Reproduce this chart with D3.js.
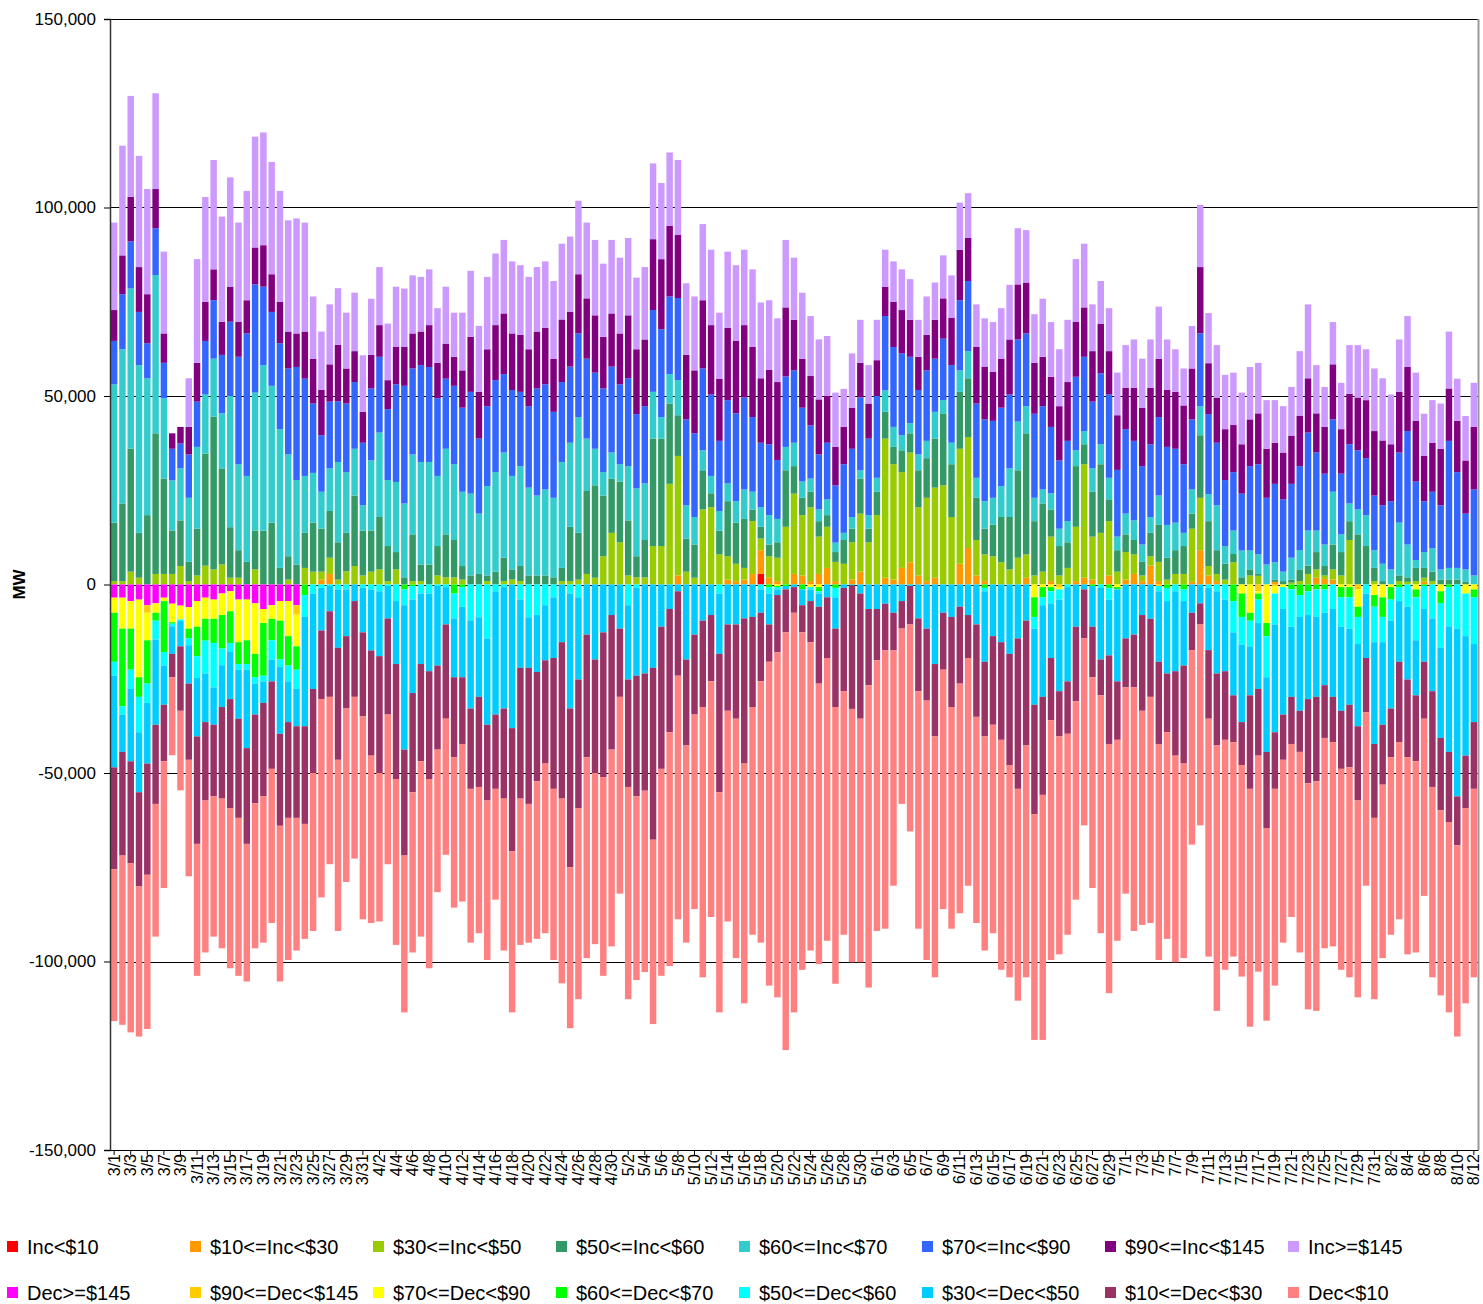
<!DOCTYPE html>
<html>
<head>
<meta charset="utf-8">
<script src="https://cdn.jsdelivr.net/npm/d3@7"></script>
<style>
  body { margin: 0; background: #fff; }
  svg { display: block; font-family: "Liberation Sans", Arial, sans-serif; }
</style>
</head>
<body>
<div id="chart"></div>
<script>
// Chart size and plot area
const width = 1483;
const height = 1304;
const plotLeft = 110;
const plotRight = 1478;
const plotTop = 19;
const plotBottom = 1150;

// Categories: every day from 3/1 to 8/12
const months = [[3, 31], [4, 30], [5, 31], [6, 30], [7, 31], [8, 12]];
const days = [];
months.forEach(function (m) {
  for (let d = 1; d <= m[1]; d++) days.push(m[0] + "/" + d);
});

const yTicks = [-150000, -100000, -50000, 0, 50000, 100000, 150000];

// Series values, thousand MW. Dec series are plotted below zero.
const incLt10 = [
  0,0,0,0,0,0,0,0,0,0, 0,0,0,0,0,0,0,0,0,0, 0,0,0,0,0,0,0,0,0,0, 0,0,0,0,0,0,0,0,0,0,
  0,0,0,0,0,0,0,0,0,0, 0,0,0,0,0,0,0,0,0,0, 0,0,0,0,0,0,0,0,0,0, 0,0,0,0,0,0,0,0,2.8,0,
  0,0,0,0,0,0,0,0,0,0, 0,0,0,0,0,0,0,0,0,0, 0,0,0,0,0,0,0,0,0,0, 0,0,0,0,0,0,0,0,0,0,
  0,0,0,0,0,0,0,0,0,0, 0,0,0,0,0,0,0,0,0,0, 0,0,0,0,0,0,0,0,0,0, 0,0,0,0,0,0,0,0,0,0,
  0,0,0,0,0
];
const inc10to30 = [
  0,0,0,0,0,0,0,0,0,0, 0,0,0,0,0,0,0,0,0,0, 0,0,0,0,0,1.3,2.8,0,0,0, 0,0,0,0,0,0,0,0,0,0,
  0,0,0,0,0,0,0,0,0,0, 0,0,0,0,0,0,0,0,0,0, 0,0,0,0,0,0,0,0,2.4,0, 0,0,0,0,1.3,0.9,1.3,2.8,6.3,1.8,
  0.9,0,2.8,2.4,0.9,2.8,4.4,0.9,0,1.3, 3.4,0,0,1.8,1.3,4.4,5.9,2.4,0.9,1.8, 0,0,5.5,9.7,2.4,0.9,0,0,0,0, 1.8,0,0,0.9,0,0,0.9,1.8,1.3,0,
  2.4,0,1.3,2.8,0.9,5.0,0.9,0,0,0, 0.7,9.1,2.4,0.9,0,0,0,0,0,0, 0.7,0,0,0,0,1.8,1.5,1.3,0,0, 0,0,0,0,0,0,0,0,0.7,0,
  0,0,0,0,0
];
const inc30to50 = [
  0.9,0.9,3.4,1.8,0,2.8,2.8,2.8,4.9,0.9, 2.4,5.0,4.0,5.3,1.8,1.8,0,4.0,0,0, 0,1.3,0,4.4,3.4,2.1,4.3,1.3,3.5,4.9, 2.4,3.4,4.0,0.9,4.0,0,0.9,0.9,0,2.4,
  1.9,1.9,1.3,0,0,0.9,0,0.9,1.3,0.9, 0,0,0,0,0.9,0.9,1.3,2.8,1.8,7.5, 13.7,11.2,2.4,1.9,1.9,10.2,10.2,26.7,31.7,3.4, 1.8,19.9,20.5,8.0,6.2,4.6,3.1,14.0,3.1,5.7,
  6.2,15.3,21.3,16.0,19.6,9.9,10.9,5.1,5.5,9.9, 15.4,11.2,18.4,36.9,30.6,25.4,29.1,18.1,22.1,23.9, 26.3,17.9,30.5,29.4,9.4,7.1,7.5,5.9,4.0,7.1, 6.2,2.4,3.4,11.8,2.4,4.4,14.4,30.1,11.4,13.7,
  14.4,3.4,7.3,5.2,1.5,2.5,5.1,1.3,2.8,2.8, 14.1,13.9,2.5,1.9,1.3,5.9,0,2.4,2.3,0, 0,0,0.5,0.9,2.8,2.2,0.9,2.7,2.4,11.8, 0,0,0.9,0,0,0.9,0.7,0.9,1.1,0.9,
  0,0,0,0,0
];
const inc50to60 = [
  15.5,20.6,32.6,11.9,18.4,37.3,25.3,11.5,12.1,5.1, 12.4,29.7,40.5,25.5,13.4,7.3,6.0,10.3,14.3,16.4, 4.4,6.2,5.3,9.3,13.0,11.4,12.4,9.9,10.2,18.7, 11.9,10.9,13.9,9.3,4.6,1.9,12.4,4.4,5.3,7.8,
  11.4,9.9,3.6,2.4,2.8,1.5,3.4,6.2,2.7,4.0, 2.4,2.4,2.4,1.9,3.5,14.4,12.4,22.0,24.5,16.1, 14.4,16.1,14.6,5.6,9.9,28.5,28.5,21.3,10.8,8.8, 8.8,10.4,3.7,6.3,14.6,10.9,13.0,3.1,3.1,3.1,
  4.1,15.0,7.3,4.6,4.1,4.1,3.1,2.6,6.3,3.6, 9.3,3.6,6.2,7.1,4.6,5.8,5.1,9.8,10.5,13.0, 19.1,14.0,15.1,15.6,11.2,6.8,8.4,12.0,13.9,23.2, 32.1,14.4,18.1,7.2,7.8,6.8,16.1,5.3,11.9,18.2,
  5.8,5.7,4.7,3.8,3.6,6.2,9.8,5.8,6.3,7.4, 4.0,16.6,11.9,6.3,4.2,2.2,1.9,1.6,0.5,0, 0.6,0.9,0.8,3.1,2.2,4.6,2.5,6.6,6.2,5.0, 13.3,10.2,3.5,0.9,0,1.5,1.2,3.5,2.6,2.5,
  1.3,1.3,1.3,0.7,0
];
const inc60to70 = [
  36.7,40.9,42.5,44.5,36.3,42.0,21.3,13.3,13.8,17.0, 21.7,15.7,15.4,14.6,34.8,22.8,22.8,36.6,43.9,36.3, 36.8,27.0,22.4,15.1,13.2,9.8,11.3,21.3,16.1,12.4, 6.7,18.6,22.4,17.5,18.6,19.6,21.2,27.2,27.2,18.6,
  22.7,20.1,19.7,21.7,16.0,23.7,26.4,27.9,24.8,26.5, 23.3,21.2,22.8,21.1,28.1,22.3,30.7,13.9,9.7,6.2, 6.9,4.6,14.4,18.0,15.0,12.4,5.7,7.8,9.3,8.8, 7.3,5.3,4.6,5.2,4.7,5.7,7.8,4.7,5.2,7.8,
  6.2,6.2,6.2,4.3,3.5,3.1,4.2,2.5,1.9,3.1, 2.2,3.6,3.7,5.7,5.3,4.0,2.7,4.2,4.6,7.1, 3.5,5.7,5.7,7.2,5.3,7.3,7.1,8.2,12.9,12.9, 7.2,6.2,3.7,4.3,4.6,5.6,4.2,3.5,6.2,5.3,
  5.7,3.6,5.5,5.2,4.6,4.2,7.8,8.7,7.3,3.5, 6.4,7.7,7.2,11.9,4.7,6.2,7.1,5.0,5.2,5.3, 4.6,2.5,5.8,5.1,9.3,5.7,5.7,14.0,4.7,4.7, 6.6,8.2,4.7,4.6,4.0,14.0,8.7,2.1,4.2,6.2,
  2.7,3.1,3.1,3.3,2.4
];
const inc70to90 = [
  11.5,14.6,12.5,14.1,9.3,12.4,9.4,8.4,6.6,11.5, 12.0,14.2,15.5,15.5,19.7,28.5,37.8,28.7,20.8,19.6, 22.8,22.8,30.0,25.8,18.4,15.0,17.7,16.1,18.2,17.7, 16.6,19.1,20.1,18.8,25.9,31.2,22.8,25.7,25.2,20.6,
  18.6,20.8,22.3,27.0,19.9,21.2,24.4,20.8,22.8,19.7, 21.6,28.4,27.9,22.8,21.2,20.2,22.2,21.2,20.2,22.2, 22.8,21.2,23.3,19.7,20.5,21.7,23.3,20.6,21.8,22.8, 22.2,21.7,21.6,18.6,22.1,23.3,24.4,19.8,17.1,18.8,
  15.6,18.7,19.2,19.6,14.1,14.6,15.0,15.2,18.2,18.1, 19.3,20.3,21.7,19.7,21.2,21.7,17.6,17.1,18.7,14.1, 16.3,20.6,18.6,18.6,19.7,21.7,20.4,20.8,19.6,21.8, 19.3,22.3,22.1,17.6,18.1,21.3,19.5,19.7,17.7,18.8,
  22.1,17.7,22.4,21.1,20.8,19.3,20.8,20.7,19.6,18.2, 18.6,19.3,21.2,16.6,17.5,15.5,15.1,22.4,23.9,17.7, 20.8,19.2,19.6,22.3,26.0,20.7,18.8,19.2,16.1,15.7, 15.7,15.1,14.5,15.5,18.1,18.6,30.1,20.8,13.5,15.0,
  17.0,33.7,25.4,14.8,22.8
];
const inc90to145 = [
  8.2,10.3,11.8,11.9,13.0,10.4,7.8,4.1,4.4,7.3, 10.3,10.4,8.2,8.8,9.3,9.3,8.8,9.8,11.0,10.0, 11.0,9.8,8.9,12.5,11.9,12.0,9.9,15.0,9.3,8.2, 8.2,8.9,8.4,7.7,9.9,10.3,9.3,8.9,11.1,9.4,
  9.3,7.7,9.9,14.6,12.4,15.1,14.6,16.1,15.0,15.1, 15.1,15.1,15.0,14.1,16.6,14.5,15.7,16.0,15.2,13.7, 14.1,13.5,16.7,17.2,17.7,18.8,18.6,18.7,16.7,17.1, 16.7,18.1,18.4,16.5,19.2,19.2,19.2,18.6,17.1,19.7,
  20.7,18.3,13.4,13.0,13.1,14.6,12.4,10.2,9.9,10.9, 9.2,9.3,9.5,7.8,12.0,11.5,9.8,8.8,9.4,10.3, 10.7,12.6,13.4,11.5,15.0,14.0,13.0,13.0,14.6,14.6, 13.5,13.5,13.1,13.3,14.4,15.6,14.6,13.1,13.4,13.2,
  11.5,14.5,11.0,14.1,15.5,15.0,15.5,15.1,15.1,15.6, 13.5,17.6,13.5,12.0,13.5,12.5,13.1,12.4,13.5,13.0, 10.9,12.4,12.8,13.4,14.4,10.4,12.4,14.6,11.8,13.4, 14.0,15.4,17.1,17.2,15.1,16.1,17.0,16.1,12.0,13.0,
  15.0,13.9,13.6,14.1,16.6
];
const incGe145 = [
  23.2,29.1,26.8,29.5,27.9,25.4,21.7,0,0,12.9, 27.5,27.8,29.0,27.9,29.0,26.3,29.0,29.4,29.9,29.8, 29.4,29.5,30.5,28.9,16.5,15.5,15.9,15.0,14.8,15.5, 15.0,14.9,15.4,15.0,16.0,15.5,15.4,14.5,14.8,14.5,
  15.1,11.7,15.3,17.5,17.5,19.2,19.0,19.5,19.1,18.5, 19.2,17.1,17.6,20.6,20.1,20.0,19.5,20.1,20.0,19.4, 19.5,20.1,20.5,19.0,19.2,20.1,20.2,19.5,19.9,19.0, 19.6,20.2,20.0,17.5,20.2,20.1,20.0,20.6,20.1,18.5,
  16.9,17.9,16.5,17.5,15.9,15.9,15.9,14.4,10.1,14.4, 11.4,10.2,10.7,9.8,10.7,10.8,10.8,9.8,10.2,9.9, 11.4,11.2,12.5,11.8,11.3,12.8,13.2,13.4,14.5,14.9, 13.9,12.9,15.4,14.5,15.1,16.5,16.6,16.9,12.4,11.3,
  11.4,11.3,11.3,12.8,13.0,12.8,13.8,13.4,11.3,9.8, 11.3,16.5,13.3,13.9,14.4,13.9,13.7,13.9,13.4,12.9, 11.3,12.3,12.9,17.1,19.6,12.8,10.6,11.2,12.3,12.9, 13.9,13.5,16.6,16.5,13.2,13.9,13.5,12.8,11.2,11.3,
  12.0,15.1,11.2,11.8,11.7
];

const decGe145 = [
  3.5,3.5,4.4,4.0,5.5,5.0,3.5,5.1,5.6,6.0, 4.4,3.5,4.0,2.4,1.8,4.0,4.0,5.0,6.5,5.5, 4.4,4.4,5.5,0,0,0,0,0,0,0, 0,0,0,0,0,0,0,0,0,0,
  0,0,0,0,0,0,0,0,0,0, 0,0,0,0,0,0,0,0,0,0, 0,0,0,0,0,0,0,0,0,0, 0,0,0,0,0,0,0,0,0,0,
  0,0,0,0,0,0,0,0,0,0, 0,0,0,0,0,0,0,0,0,0, 0,0,0,0,0,0,0,0,0,0, 0,0,0,0,0,0,0,0,0,0,
  0,0,0,0,0,0,0,0,0,0, 0,0,0,0,0,0,0,0,0,0, 0,0,0,0,0,0,0,0,0,0, 0,0,0,0,0,0,0,0,0,0,
  0,0,0,0,0
];
const dec90to145 = [
  0,0,0,0,2.0,0,0,0,0,0, 0,0,0,0,0,0,0,0,0,0, 0,0,2.5,0,0,0,0,0,0,0, 0,0,0,0,0,0,0,0,0,0,
  0,0,0,0,0,0,0,0,0,0, 0,0,0,0,0,0,0,0,0,0, 0,0,0,0,0,0,0,0,0,0, 0,0,0,0,0,0,0,0,0,0,
  0,0,0,0,0,0,0,0,0,0, 0,0,0,0,0,0,0,0,0,0, 0,0,0,0,0,0,0,0,0,0, 0,0,0,0,0.7,0,0,0,0,0,
  0,0,0,0,0,0,0.4,0,0,0, 0,0,0,0,0,0,0,0,1.8,0, 0.4,0,0,0,0,0,0,0,0,0, 1.3,0,0,0,0,0,0,0,0,0,
  0,0,0,0,0
];
const dec70to90 = [
  4.0,8.2,7.3,20.6,7.3,2.5,0.9,4.9,3.7,5.7, 6.8,5.6,5.1,5.7,5.3,11.3,10.8,13.4,3.7,3.6, 5.2,9.3,8.4,0,0,0,0,0,0,0, 0,0,0,0,0,0,0,0,0,0,
  0,0,0,0,0,0,0,0,0,0, 0,0,0,0,0,0,0,0,0,0, 0,0,0,0,0,0,0,0,0,0, 0,0,0,0,0,0,0,0,0,0,
  0.4,0,0,0,0.7,0.7,0,0,0,0, 0,0,0,0,0,0,0,0,0,0, 0,0,0,0,0,0,0,0,0,0, 0,3.4,0.7,0.7,0.6,0,0,0,0,0,
  0,0.7,0,0,0,0,0,0,0,0, 0,0,0,0,0,0,2.4,7.5,0.6,10.2, 2.0,0.7,0,0,0,0,0,0,0.7,0.7, 4.6,0,2.8,3.4,0.7,0,0,1.3,0,0,
  1.8,0,0,2.4,1.3
];
const dec60to70 = [
  13.0,20.6,10.9,5.2,11.5,2.1,13.5,0.4,0,2.6, 7.8,5.8,6.4,8.9,8.4,5.8,6.3,6.2,14.0,5.7, 10.3,7.8,6.2,2.8,0,0,0,0,0,0, 0,0,0,0,0,1.3,0.4,0,0,0,
  0,2.4,0.7,0,0,0,0,0,0,0, 0,0,0,0,0,0,0,0,0,0, 0,0,0,0,0,0,0,0,0,0, 0,0,0,0,0,0,0,0,0,0.7,
  0.3,0.4,0,1.3,0,1.1,0,0.9,0,0, 0,0,0,0,0,0,0,0,0,0, 0,0,0,0,0,0.9,0,0,0,0, 0,5.2,2.7,1.1,0,0,0,0,0.4,0,
  0.9,0.6,0,0,0,0,0,0.9,0,1.3, 0,0,0,0,0,4.4,6.2,2.1,1.6,3.5, 0,0,1.3,2.8,1.8,1.3,1.3,0,2.7,2.7, 2.7,0,3.1,5.2,3.3,0.7,0,2.1,0.4,0,
  3.1,0.7,0,0,2.1
];
const dec50to60 = [
  3.7,2.2,5.1,9.4,5.1,5.0,3.6,0.7,0.4,1.8, 5.8,8.7,11.8,4.4,2.4,1.5,1.5,1.7,1.5,5.1, 2.0,4.2,5.1,5.8,2.4,0.9,0.4,1.3,1.3,0, 0.9,1.3,1.8,0.4,4.4,4.2,3.6,2.4,2.4,0.4,
  0.7,6.6,5.2,9.5,8.7,14.3,1.8,0.7,0,4.0, 8.7,8.1,5.5,3.4,0,2.4,3.4,0,0,0, 0,0,5.5,0.9,0,0,0,0,0,0, 0,0,0,2.4,0,0,0,0,1.3,1.7,
  0.6,0,0,0,0.6,0.6,0,2.5,0,0, 0,0,0,0,0,0,0,0,0,0, 0,0,0,0,0,0.9,0,0,0,0, 0,3.1,2.1,3.2,2.7,0.7,0,0,0,0.9,
  3.1,0,0,0,0,0,1.4,3.5,1.8,3.1, 0,0,0.9,1.8,4.0,8.3,7.3,6.8,6.2,10.9, 8.2,5.8,9.9,5.8,6.3,7.3,6.2,6.5,7.8,8.3, 7.2,2.4,9.4,6.7,5.6,3.7,5.9,11.4,6.1,9.0,
  11.9,10.4,11.7,11.3,12.4
];
const dec30to50 = [
  24.3,9.9,19.2,15.9,16.1,22.6,10.4,7.3,6.7,10.2, 15.5,12.9,9.9,11.1,12.5,13.0,20.8,8.2,5.7,5.8, 17.7,10.8,9.9,29.0,25.3,11.3,6.7,15.5,12.4,4.4, 11.8,16.2,17.2,8.6,16.7,38.3,24.8,18.7,20.6,21.1,
  9.9,15.6,18.7,23.4,21.1,22.9,32.7,32.2,38.1,18.1, 13.4,15.1,14.6,16.1,15.3,30.5,21.8,13.3,19.9,12.7, 8.1,11.7,19.7,23.3,23.6,22.1,11.2,6.5,1.8,19.9, 13.3,9.6,8.1,16.0,10.6,10.6,9.0,8.6,6.2,8.2,
  1.5,0.9,0.7,4.2,3.1,3.5,3.4,8.3,0.9,0.3, 2.4,6.5,6.5,5.1,7.5,4.4,0.4,9.0,11.7,21.1, 7.5,8.6,5.9,8.1,10.6,18.7,13.7,15.3,18.4,14.3, 9.6,20.2,24.3,14.5,24.3,25.0,11.2,1.3,10.8,19.0,
  14.8,24.4,14.3,13.3,8.1,9.1,18.7,19.2,21.2,17.1, 7.5,5.0,16.5,21.8,19.0,16.7,20.6,13.0,17.5,19.8, 28.6,28.0,18.6,24.9,22.3,21.2,19.2,23.3,22.3,20.2, 21.8,17.1,27.0,21.9,23.3,16.1,19.3,14.6,14.0,19.3,
  23.9,33.3,44.5,31.7,20.7
];
const dec10to30 = [
  27.0,27.5,27.0,25.0,29.5,21.0,15.0,6.2,17.1,20.2, 28.5,20.8,19.0,24.3,28.9,26.3,25.4,23.5,24.8,23.2, 24.4,25.4,24.3,25.9,22.3,18.2,22.7,29.7,19.2,25.4, 22.3,27.9,31.0,25.5,30.5,28.1,26.3,25.8,28.6,22.3,
  25.0,21.2,17.7,21.3,23.9,20.1,19.7,23.9,32.7,34.7, 36.1,29.0,27.4,34.7,41.5,42.1,34.1,32.5,30.1,38.4, 35.7,18.1,28.5,32.0,31.1,45.6,37.7,32.7,22.4,22.8, 21.2,22.9,17.6,36.7,22.9,25.0,38.5,23.9,18.2,9.9,
  15.2,11.4,6.8,7.2,10.9,20.4,16.1,20.8,27.4,32.7, 33.2,20.2,13.6,12.4,10.0,7.3,10.2,19.3,19.1,19.2, 15.1,23.9,20.4,11.4,24.5,19.8,23.5,25.9,29.6,39.9, 33.1,29.0,26.0,16.5,12.0,13.9,19.8,13.0,13.4,9.5,
  23.5,15.5,13.0,14.0,25.4,20.7,21.8,15.6,22.4,26.0, 9.9,5.6,18.2,19.1,18.2,12.4,11.4,24.8,17.7,20.2, 15.0,12.0,12.5,10.9,22.3,22.4,14.0,12.0,15.4,16.6, 19.7,14.4,19.6,15.9,12.9,21.3,20.6,17.5,15.1,25.4,
  19.2,18.6,13.0,13.9,17.7
];
const decLt10 = [
  40.3,44.9,44.9,39.8,40.9,35.2,33.6,20.7,21.1,30.9, 35.0,40.3,37.2,39.7,42.5,41.9,36.5,38.5,38.8,40.9, 41.3,37.7,35.2,30.5,41.9,52.6,44.4,45.4,46.0,42.9, 53.8,44.4,39.4,39.7,44.0,41.6,42.5,46.5,50.2,37.8,
  36.1,39.9,41.8,40.8,38.8,42.3,29.4,40.3,42.7,38.8, 36.8,41.8,45.0,45.4,49.0,42.7,50.7,53.3,45.4,52.7, 52.2,52.2,56.3,48.7,48.1,48.9,54.9,62.0,64.6,52.3, 51.6,71.7,62.5,58.4,55.9,63.5,63.6,60.4,69.3,85.9,
  91.5,110.8,106.0,89.5,81.8,74.4,75.0,73.4,64.6,67.2, 64.6,80.2,71.8,73.8,62.4,46.5,54.9,63.0,68.8,63.9, 63.5,58.8,60.9,60.4,54.7,56.8,55.3,61.0,56.2,56.2, 61.5,59.9,65.0,63.6,57.8,53.3,52.6,49.6,55.9,63.1,
  66.1,53.3,54.7,64.6,56.8,60.0,57.3,54.8,54.8,51.6, 51.6,53.3,63.1,70.4,61.0,56.9,56.1,63.1,57.3,51.1, 52.2,48.5,45.9,53.2,60.0,60.9,55.8,54.2,53.3,55.7, 52.2,46.0,48.1,46.0,47.1,47.0,52.3,50.7,47.0,50.5,
  49.1,50.5,50.7,51.8,50.0
];

// Series definitions (stack order = legend order)
const series = [
  { name: "Inc<$10",        color: "#FF0000", values: incLt10,    sign: 1 },
  { name: "$10<=Inc<$30",   color: "#FF9900", values: inc10to30,  sign: 1 },
  { name: "$30<=Inc<$50",   color: "#99CC00", values: inc30to50,  sign: 1 },
  { name: "$50<=Inc<$60",   color: "#339966", values: inc50to60,  sign: 1 },
  { name: "$60<=Inc<$70",   color: "#33CCCC", values: inc60to70,  sign: 1 },
  { name: "$70<=Inc<$90",   color: "#3366FF", values: inc70to90,  sign: 1 },
  { name: "$90<=Inc<$145",  color: "#800080", values: inc90to145, sign: 1 },
  { name: "Inc>=$145",      color: "#CC99FF", values: incGe145,   sign: 1 },
  { name: "Dec>=$145",      color: "#FF00FF", values: decGe145,   sign: -1 },
  { name: "$90<=Dec<$145",  color: "#FFCC00", values: dec90to145, sign: -1 },
  { name: "$70<=Dec<$90",   color: "#FFFF00", values: dec70to90,  sign: -1 },
  { name: "$60<=Dec<$70",   color: "#00FF00", values: dec60to70,  sign: -1 },
  { name: "$50<=Dec<$60",   color: "#00FFFF", values: dec50to60,  sign: -1 },
  { name: "$30<=Dec<$50",   color: "#00CCFF", values: dec30to50,  sign: -1 },
  { name: "$10<=Dec<$30",   color: "#993366", values: dec10to30,  sign: -1 },
  { name: "Dec<$10",        color: "#FF8080", values: decLt10,    sign: -1 }
];

// Build table for d3.stack (MW)
const table = days.map(function (day, i) {
  const row = { date: day };
  series.forEach(function (s) { row[s.name] = s.sign * s.values[i] * 1000; });
  return row;
});

const stacked = d3.stack()
  .keys(series.map(s => s.name))
  .offset(d3.stackOffsetDiverging)(table);

const svg = d3.select("#chart")
  .append("svg")
  .attr("width", width)
  .attr("height", height);

const x = d3.scaleBand()
  .domain(days)
  .range([plotLeft, plotRight])
  .paddingInner(0.22)
  .paddingOuter(0.11);

const y = d3.scaleLinear()
  .domain([-150000, 150000])
  .range([plotBottom, plotTop]);

const fmt = d => d3.format(",")(d).replace("\u2212", "-");

// Gridlines
svg.append("g")
  .selectAll("line")
  .data(yTicks)
  .join("line")
  .attr("x1", plotLeft)
  .attr("x2", plotRight)
  .attr("y1", d => Math.round(y(d)) + 0.5)
  .attr("y2", d => Math.round(y(d)) + 0.5)
  .attr("stroke", "#000")
  .attr("stroke-width", 1);

// Bars
svg.append("g")
  .selectAll("g")
  .data(stacked)
  .join("g")
  .attr("fill", (d, i) => series[i].color)
  .selectAll("rect")
  .data(d => d.filter(p => p[0] !== p[1]))
  .join("rect")
  .attr("x", d => x(d.data.date))
  .attr("width", x.bandwidth())
  .attr("y", d => y(Math.max(d[0], d[1])))
  .attr("height", d => Math.abs(y(d[0]) - y(d[1])));

// Y axis
const yAxis = svg.append("g")
  .attr("transform", "translate(" + plotLeft + ",0)")
  .call(d3.axisLeft(y).tickValues(yTicks).tickFormat(fmt).tickSize(6).tickPadding(8));
yAxis.select(".domain").attr("stroke", "#333").attr("stroke-width", 1.5);
yAxis.selectAll("text").attr("font-size", 17).attr("fill", "#000")
  .attr("font-family", "Liberation Sans, Arial, sans-serif");

// Right border
svg.append("line")
  .attr("x1", plotRight + 0.5).attr("x2", plotRight + 0.5)
  .attr("y1", plotTop).attr("y2", plotBottom)
  .attr("stroke", "#999").attr("stroke-width", 2);

// X axis (labels every other day)
const xAxis = svg.append("g")
  .attr("transform", "translate(0," + plotBottom + ")")
  .call(d3.axisBottom(x).tickValues(days.filter((d, i) => i % 2 === 0)).tickSize(5).tickSizeOuter(0));
xAxis.select(".domain").attr("stroke", "#000");
xAxis.selectAll("text")
  .attr("font-size", 16)
  .attr("fill", "#000")
  .attr("font-family", "Liberation Sans, Arial, sans-serif")
  .attr("text-anchor", "end")
  .attr("transform", "rotate(-90)")
  .attr("x", -4)
  .attr("y", 0)
  .attr("dy", "0.35em");

// Y axis title
svg.append("text")
  .attr("transform", "translate(25," + y(0) + ") rotate(-90)")
  .attr("text-anchor", "middle")
  .attr("font-size", 17)
  .attr("font-weight", "bold")
  .text("MW");

// Legend: incs on the first row, decs on the second
const legend = svg.append("g");
series.forEach(function (s, i) {
  const col = i % 8;
  const row = Math.floor(i / 8);
  const lx = 7 + col * 183;
  const ly = 1247 + row * 46;
  legend.append("rect")
    .attr("x", lx).attr("y", ly - 6)
    .attr("width", 11).attr("height", 11)
    .attr("fill", s.color);
  legend.append("text")
    .attr("x", lx + 20).attr("y", ly)
    .attr("dy", "0.35em")
    .attr("font-size", 20)
    .text(s.name);
});
</script>
</body>
</html>
